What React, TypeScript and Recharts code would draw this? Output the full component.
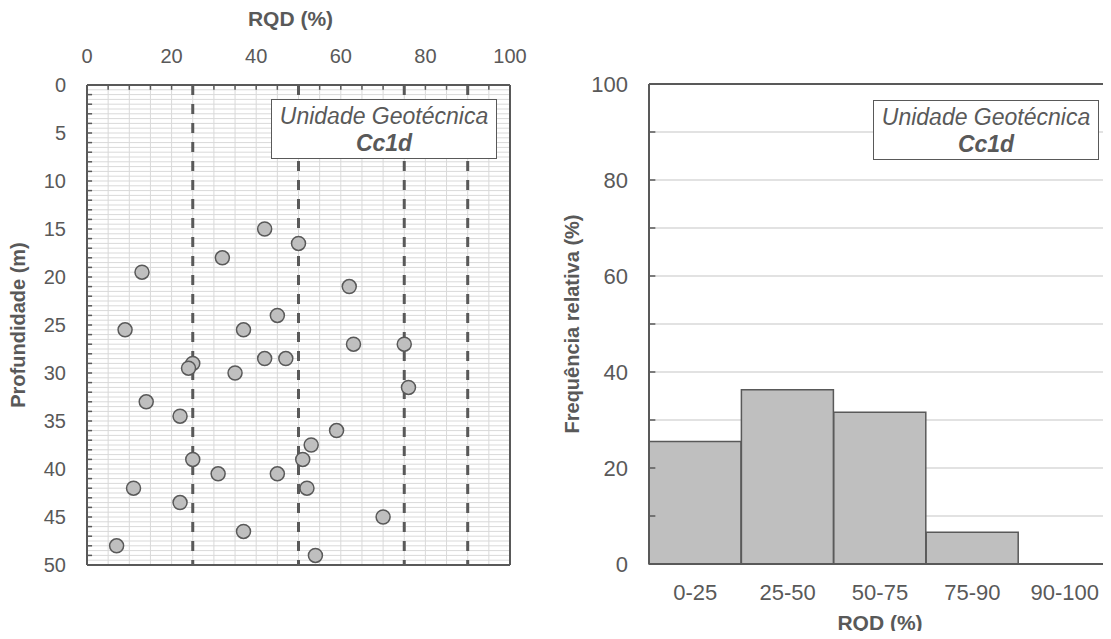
import React from "react";
import {
  ScatterChart,
  Scatter,
  BarChart,
  Bar,
  XAxis,
  YAxis,
  CartesianGrid,
  ReferenceLine,
} from "recharts";

// RQD (%) and depth (m) of each sample
const rqdValues = [
  42, 50, 32, 13, 62, 45, 9, 37, 63, 75, 42, 47, 25, 24, 35, 76, 14, 22, 59,
  53, 25, 51, 31, 45, 11, 52, 22, 70, 37, 7, 54,
];
const depthValues = [
  15, 16.5, 18, 19.5, 21, 24, 25.5, 25.5, 27, 27, 28.5, 28.5, 29, 29.5, 30,
  31.5, 33, 34.5, 36, 37.5, 39, 39, 40.5, 40.5, 42, 42, 43.5, 45, 46.5, 48, 49,
];

// histogram
const rqdClasses = ["0-25", "25-50", "50-75", "75-90", "90-100"];
const relFreq = [25.5, 36.3, 31.6, 6.6, 0];

// class limits drawn as dashed lines
const classLimits = [25, 50, 75, 90];

const rqdTicks = [0, 20, 40, 60, 80, 100];
const depthTicks = [0, 5, 10, 15, 20, 25, 30, 35, 40, 45, 50];
const freqTicks = [0, 20, 40, 60, 80, 100];

// minor ticks / grid spacing
const rqdMinor = Array.from({ length: 21 }, (_, i) => i * 5);
const depthMinor = Array.from({ length: 51 }, (_, i) => i);
const depthGrid = Array.from({ length: 101 }, (_, i) => i * 0.5);
const freqMinor = Array.from({ length: 11 }, (_, i) => i * 10);

const points = rqdValues.map((rqd, i) => ({ rqd, depth: depthValues[i] }));
const barData = rqdClasses.map((cls, i) => ({ cls, freq: relFreq[i] }));

const FONT = '"Liberation Sans", Arial, sans-serif';
const DARK = "#595959";
const GRID = "#D9D9D9";
const FILL = "#BFBFBF";

const Dot = (props: any) => (
  <circle
    cx={props.cx}
    cy={props.cy}
    r={7}
    fill={FILL}
    stroke={DARK}
    strokeWidth={1.5}
  />
);

const titleStyle = {
  fill: DARK,
  fontFamily: FONT,
  fontWeight: 700,
};

const HTitle = ({ viewBox, text, dy, dx = 0, size }: any) => {
  if (!viewBox) return null;
  return (
    <text
      x={viewBox.x + viewBox.width / 2 + dx}
      y={viewBox.y + dy}
      textAnchor="middle"
      dominantBaseline="central"
      fontSize={size}
      style={titleStyle}
    >
      {text}
    </text>
  );
};

const VTitle = ({ viewBox, text, dx, size }: any) => {
  if (!viewBox) return null;
  const x = viewBox.x + dx;
  const y = viewBox.y + viewBox.height / 2;
  return (
    <text
      x={x}
      y={y}
      transform={`rotate(-90, ${x}, ${y})`}
      textAnchor="middle"
      dominantBaseline="central"
      fontSize={size}
      style={titleStyle}
    >
      {text}
    </text>
  );
};

const UnitBox = ({ left, top }: { left: number; top: number }) => (
  <div
    style={{
      position: "absolute",
      left,
      top,
      width: 226,
      height: 60,
      boxSizing: "border-box",
      border: `1px solid ${DARK}`,
      background: "#fff",
      color: DARK,
      fontFamily: FONT,
      fontSize: 23,
      fontStyle: "italic",
      textAlign: "center",
      lineHeight: "27px",
      paddingTop: 3,
      whiteSpace: "nowrap",
    }}
  >
    <div>Unidade Geotécnica</div>
    <div style={{ fontWeight: 700 }}>Cc1d</div>
  </div>
);

export default function App() {
  return (
    <div
      style={{
        position: "relative",
        width: 1111,
        height: 639,
        margin: -8,
        background: "#fff",
        overflow: "hidden",
      }}
    >
      <div style={{ position: "absolute", left: 0, top: 0 }}>
        <ScatterChart
          width={560}
          height={639}
          margin={{ top: 0, right: 50, bottom: 74, left: 0 }}
        >
          <CartesianGrid
            vertical={false}
            stroke={GRID}
            strokeWidth={1}
            horizontalValues={depthGrid}
          />
          <XAxis
            type="number"
            dataKey="rqd"
            orientation="top"
            domain={[0, 100]}
            ticks={rqdTicks}
            interval={0}
            height={85}
            tickLine={false}
            tickSize={0}
            tickMargin={22}
            axisLine={{ stroke: DARK, strokeWidth: 2 }}
            tick={{ fill: DARK, fontSize: 20, fontFamily: FONT }}
            label={<HTitle text="RQD (%)" dy={18} dx={-8} size={21} />}
          />
          <YAxis
            type="number"
            dataKey="depth"
            reversed
            domain={[0, 50]}
            ticks={depthTicks}
            interval={0}
            width={87}
            tickLine={false}
            tickSize={0}
            tickMargin={21}
            axisLine={{ stroke: DARK, strokeWidth: 2 }}
            tick={{ fill: DARK, fontSize: 20, fontFamily: FONT }}
            label={<VTitle text="Profundidade (m)" dx={18} size={20} />}
          />
          {/* vertical grid every 5 % */}
          {rqdMinor.map((v) => (
            <ReferenceLine key={`g${v}`} x={v} stroke={GRID} strokeWidth={1} />
          ))}
          {/* inside minor ticks */}
          {rqdMinor.map((v) => (
            <ReferenceLine
              key={`tx${v}`}
              segment={[
                { x: v, y: 0 },
                { x: v, y: 0.5 },
              ]}
              stroke={DARK}
              strokeWidth={1.5}
            />
          ))}
          {depthMinor.map((d) => (
            <ReferenceLine
              key={`ty${d}`}
              segment={[
                { x: 0, y: d },
                { x: 1.2, y: d },
              ]}
              stroke={DARK}
              strokeWidth={1.5}
            />
          ))}
          <ReferenceLine x={100} stroke={DARK} strokeWidth={2} />
          <ReferenceLine y={50} stroke={DARK} strokeWidth={2} />
          {classLimits.map((v) => (
            <ReferenceLine
              key={v}
              x={v}
              stroke={DARK}
              strokeWidth={3}
              strokeDasharray="10 9"
            />
          ))}
          <Scatter data={points} shape={Dot} isAnimationActive={false} />
        </ScatterChart>
        <UnitBox left={271} top={99} />
      </div>

      <div style={{ position: "absolute", left: 560, top: 0 }}>
        <BarChart
          width={551}
          height={639}
          data={barData}
          margin={{ top: 84, right: 0, bottom: 0, left: 0 }}
          barCategoryGap={0}
          barGap={0}
        >
          <CartesianGrid
            vertical={false}
            stroke={GRID}
            strokeWidth={1.5}
            horizontalValues={freqMinor}
          />
          <XAxis
            dataKey="cls"
            height={75}
            interval={0}
            tickLine={false}
            tickSize={0}
            tickMargin={20}
            axisLine={{ stroke: DARK, strokeWidth: 2 }}
            tick={{ fill: DARK, fontSize: 22, fontFamily: FONT }}
            label={<HTitle text="RQD (%)" dy={58} size={21} />}
          />
          {/* hidden numeric x scale over the 5 classes, used for the inside ticks */}
          <XAxis
            xAxisId="num"
            type="number"
            domain={[0, 5]}
            height={0}
            hide
          />
          <YAxis
            type="number"
            domain={[0, 100]}
            ticks={freqTicks}
            interval={0}
            width={89}
            tickLine={false}
            tickSize={0}
            tickMargin={21}
            axisLine={{ stroke: DARK, strokeWidth: 2 }}
            tick={{ fill: DARK, fontSize: 22, fontFamily: FONT }}
            label={<VTitle text="Frequência relativa (%)" dx={12} size={20} />}
          />
          {freqMinor.map((v) => (
            <ReferenceLine
              key={`tf${v}`}
              xAxisId="num"
              segment={[
                { x: 0, y: v },
                { x: 0.055, y: v },
              ]}
              stroke={DARK}
              strokeWidth={1.5}
            />
          ))}
          <ReferenceLine y={100} stroke={DARK} strokeWidth={2} />
          <Bar
            dataKey="freq"
            fill={FILL}
            stroke={DARK}
            strokeWidth={1.5}
            isAnimationActive={false}
          />
        </BarChart>
        <UnitBox left={313} top={100} />
      </div>
    </div>
  );
}
